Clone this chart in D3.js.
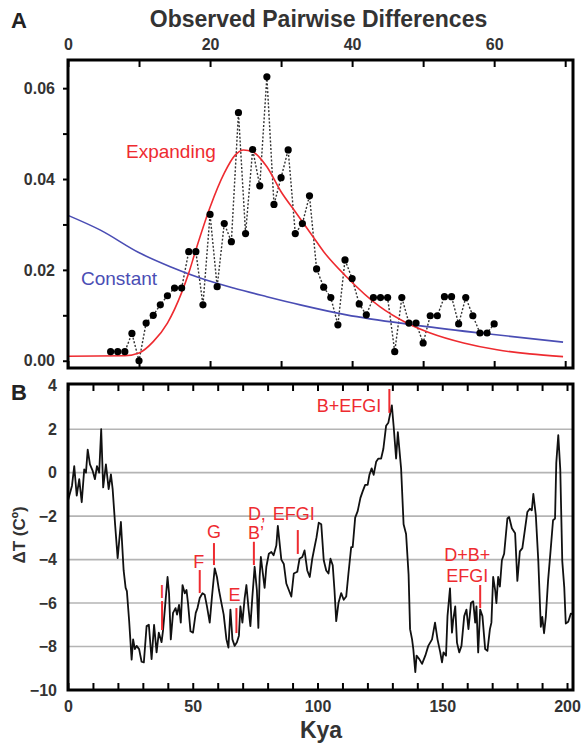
<!DOCTYPE html>
<html><head><meta charset="utf-8">
<script src="https://cdn.jsdelivr.net/npm/d3@7"></script>
<style>body{margin:0;background:#fff}svg{display:block}text{font-family:"Liberation Sans",Arial,Helvetica,sans-serif}</style>
</head><body><svg id="c" width="581" height="743"></svg>
<script>
// ---------- Panel A data ----------
const pairX = [6,7,8,9,10,11,12,13,14,15,16,17,18,19,20,21,22,23,24,25,26,27,28,29,30,31,32,33,34,35,36,37,38,39,40,41,42,43,44,45,46,47,48,49,50,51,52,53,54,55,56,57,58,59,60];
const pairY = [0.002,0.002,0.002,0.006,0.000,0.0083,0.010,0.0123,0.0143,0.016,0.016,0.024,0.024,0.0123,0.0322,0.0163,0.0302,0.0262,0.0546,0.028,0.0465,0.0385,0.0625,0.0344,0.0403,0.0464,0.028,0.0302,0.0363,0.0202,0.0162,0.0139,0.0079,0.0222,0.0181,0.0125,0.0101,0.0139,0.0139,0.0139,0.002,0.0139,0.0083,0.0083,0.0039,0.0099,0.0099,0.0141,0.0141,0.0081,0.0139,0.0099,0.0061,0.0061,0.0081];
const expandX = [0,8,10,12,14,16,17,18,20,22,23.5,24.7,26,28,30,32,34.5,36,39.2,43.9,47.7,51,55.7,60.4,65,69.7];
const expandY = [0.001,0.0011,0.0017,0.0042,0.0083,0.015,0.0193,0.0244,0.0338,0.0413,0.0452,0.0464,0.046,0.0427,0.0372,0.0328,0.0273,0.0240,0.0185,0.0119,0.0083,0.0061,0.0039,0.0024,0.0015,0.0009];
const constX = [0,4.5,10.1,14.4,18.6,23.3,28,32.7,39.2,48.6,58,69.7];
const constY = [0.032,0.0288,0.0237,0.0207,0.0182,0.016,0.0141,0.0123,0.0101,0.0079,0.0061,0.0041];
const xATicks = [0,10,20,30,40,50,60,70];
const xALabels = [0,20,40,60];
const yATicks = [0,0.01,0.02,0.03,0.04,0.05,0.06];
const yALabels = [0,0.02,0.04,0.06];

// ---------- Panel B data ----------
const tempKya = [0,1.6,2.5,3.5,4.5,5.5,6.5,7.2,7.9,8.8,9.9,10.8,11.6,12.5,13.3,14.1,15.2,16.3,17.2,17.9,18.9,19.9,21.2,22.3,23.1,23.6,24.5,25.5,26.1,26.8,27.5,28.5,29.5,30.4,31.5,32.4,33.5,34.5,35.5,36.4,37.5,38.1,38.8,39.9,40.5,41.2,42.1,43.1,43.7,44.5,45.2,45.9,46.8,47.5,48.1,49.1,50.1,51.2,51.9,52.8,53.9,54.8,55.7,56.8,57.7,58.8,59.7,60.5,61.5,62.4,63.5,64.3,65.1,65.9,66.8,67.7,68.5,69.1,69.9,70.8,71.5,72.4,73.1,73.9,74.8,75.7,76.3,76.8,77.3,78.1,78.8,79.5,80.5,81.5,82.4,83.5,84.1,85.5,86.5,87.5,88.5,89.5,90.5,91.9,92.8,93.9,94.8,95.9,96.9,97.9,98.8,99.6,100.5,101.5,102.5,103.5,104.4,105.2,106.1,106.8,107.5,108.4,109.5,110.5,111.5,112.4,113.5,114.1,115.1,116.1,117.2,118.1,119.1,120.1,120.8,121.7,122.5,123.5,124.4,125.5,126.4,127.5,128.4,129.8,130.5,131.5,132.2,133.5,134.5,135.5,136.5,137.1,137.9,138.4,139.2,139.7,140.8,141.9,143.2,144.4,145.9,147.1,148.1,149.2,149.9,150.5,151.5,152.1,153.1,153.9,154.4,155.2,155.9,156.8,157.7,158.8,159.7,160.5,161.5,162.4,163.2,163.7,164.4,165.2,166.1,167.2,168.1,169.1,169.7,170.4,171.2,171.7,172.4,173.1,173.9,174.8,176.1,176.8,177.9,179.2,180.1,181.1,182.1,183.2,184.1,185.1,185.9,186.5,187.5,188.5,189.5,190.1,190.8,191.5,192.4,193.5,194.4,195.2,195.7,196.5,197.3,198.1,198.9,199.5,200.5,201.5,202.4];
const tempDT = [-1.28,-0.6,0.3,-1.06,-0.3,-1.36,0.15,0,1.06,0.38,0.08,-0.3,0.3,0,2.0,-0.68,0.38,-0.76,-0.08,-0.76,-2.42,-3.93,-2.27,-4.5,-5.3,-5.45,-6.8,-8.6,-7.67,-8.12,-7.97,-8.12,-8.7,-8.73,-7.06,-7.0,-8.58,-7.0,-8.27,-7.36,-7.8,-7.24,-6.3,-4.8,-5.55,-7.67,-6.45,-6.23,-6.53,-6.08,-6.9,-5.17,-5.55,-5.4,-6.0,-7.3,-7.36,-6.45,-6.23,-5.77,-5.55,-5.62,-6.15,-6.9,-5.7,-4.4,-4.8,-5.4,-6.0,-6.53,-7.67,-8.05,-6.3,-7.67,-7.97,-7.8,-7.5,-6.15,-6.9,-5.77,-5.17,-6.3,-7.06,-5.7,-4.33,-5.4,-7.14,-4.8,-3.88,-4.64,-5.3,-4.33,-3.73,-3.65,-3.8,-3.35,-2.45,-4.0,-4.2,-5.1,-5.4,-5.7,-4.64,-4.56,-3.96,-3.88,-3.58,-4.5,-4.8,-3.96,-3.43,-2.98,-2.3,-2.37,-4.03,-4.5,-4.64,-3.96,-4.26,-5.4,-6.83,-6.0,-5.54,-5.85,-5.7,-4.64,-3.43,-3.43,-2.07,-1.77,-1.16,-0.86,-0.56,-0.56,-0.1,0.2,-0.1,0.5,0.65,0.65,1.1,2.16,2.3,3.1,2.16,0.65,1.86,0.2,-2.37,-2.82,-4.68,-7.2,-7.67,-8.12,-9.18,-8.42,-8.58,-8.8,-8.42,-7.97,-7.67,-6.9,-7.67,-8.27,-8.73,-8.27,-8.42,-6.6,-5.32,-7.36,-6.76,-6.15,-7.82,-8.27,-7.97,-6.6,-6.3,-7.2,-6.0,-5.92,-6.9,-6.15,-8.27,-6.3,-6.6,-8.12,-8.2,-7.2,-6.9,-4.8,-5.4,-6.0,-4.8,-5.24,-4.03,-3.73,-2.11,-2.04,-2.56,-2.79,-4.98,-3.62,-3.47,-2.56,-1.81,-1.66,-1.73,-0.98,-1.96,-4.07,-7.09,-6.64,-7.39,-6.64,-4.98,-3.47,-2.19,-2.11,0.45,1.73,0.15,-4.07,-5.28,-6.94,-6.86,-6.49,-6.5];
const xBTicks = [0,10,20,30,40,50,60,70,80,90,100,110,120,130,140,150,160,170,180,190,200];
const xBLabels = [0,50,100,150,200];
const yBLabels = [4,2,0,-2,-4,-6,-8,-10];
const yBGrid = [2,0,-2,-4,-6,-8];
const markerKya = [37.7,52.8,58.5,67.5,74.5,92.1,128.8,165.2];
const markerTop = [-5.91,-4.48,-3.24,-6.23,-3.18,-2.64,3.85,-5.17];
const markerBot = [-7.24,-5.54,-4.25,-7.38,-4.25,-3.74,2.75,-6.23];
const markerText = [["I"],["F"],["G"],["E"],["D,","B’"],["EFGI"],["B+EFGI"],["D+B+","EFGI"]];

// ---------- layout / style ----------
const W = 581, H = 743;
const RED = "#ee2b30", BLUE = "#4a4db4", TXT = "#333";
// label layout: anchor, dx, baseline offsets (px) relative to marker line top
const markerLayout = [
  {a:"middle", dx:0, dy:[-3]},
  {a:"middle", dx:-1, dy:[-2]},
  {a:"middle", dx:0, dy:[-5]},
  {a:"middle", dx:-2, dy:[-7]},
  {a:"start", dx:-6, dy:[-22,-3]},
  {a:"middle", dx:-4, dy:[-10]},
  {a:"end", dx:-8, dy:[23]},
  {a:"middle", dx:-13, dy:[-24,-3]}
];

const svg = d3.select("#c");
svg.append("rect").attr("width",W).attr("height",H).attr("fill","#fff");

// ===== Panel A =====
const xA = d3.scaleLinear().domain([0,71.1]).range([68,573]);
const yA = d3.scaleLinear().domain([-0.0016,0.0662]).range([368,60]);
const gA = svg.append("g");

function styleAxis(g){
  g.select(".domain").remove();
  g.selectAll(".tick line").attr("stroke","#000").attr("stroke-width",2);
  g.selectAll(".tick text").attr("fill",TXT).attr("font-size",16).attr("font-weight","bold")
    .attr("font-family",'"Liberation Sans",Arial,sans-serif');
}

const lineA = d3.line().x(d=>xA(d[0])).y(d=>yA(d[1]));
const curveA = d3.line().x(d=>xA(d[0])).y(d=>yA(d[1])).curve(d3.curveMonotoneX);

gA.append("path").datum(pairX.map((x,i)=>[x,pairY[i]])).attr("d",lineA)
  .attr("fill","none").attr("stroke","#333").attr("stroke-width",1.4).attr("stroke-dasharray","2,1.8");
gA.append("path").datum(constX.map((x,i)=>[x,constY[i]])).attr("d",curveA)
  .attr("fill","none").attr("stroke",BLUE).attr("stroke-width",1.6);
gA.append("path").datum(expandX.map((x,i)=>[x,expandY[i]])).attr("d",curveA)
  .attr("fill","none").attr("stroke",RED).attr("stroke-width",1.6);
gA.selectAll("circle").data(pairX.map((x,i)=>[x,pairY[i]])).join("circle")
  .attr("cx",d=>xA(d[0])).attr("cy",d=>yA(d[1])).attr("r",3.6).attr("fill","#000");

gA.append("text").attr("x",126).attr("y",158).attr("fill",RED).attr("font-size",19).text("Expanding");
gA.append("text").attr("x",81).attr("y",285).attr("fill",BLUE).attr("font-size",19).text("Constant");

// axes A
gA.append("g").attr("transform",`translate(0,${yA.range()[1]})`)
  .call(d3.axisTop(xA).tickValues(xATicks).tickSize(-7).tickPadding(10)
    .tickFormat(d=>xALabels.includes(d)?d3.format("d")(d):""))
  .call(styleAxis);
gA.append("g").attr("transform",`translate(0,${yA.range()[0]})`)
  .call(d3.axisBottom(xA).tickValues(xATicks).tickSize(-7).tickFormat(""))
  .call(styleAxis);
gA.append("g").attr("transform",`translate(${xA.range()[0]},0)`)
  .call(d3.axisLeft(yA).tickValues(yATicks).tickSize(5).tickPadding(8)
    .tickFormat(d=>yALabels.some(v=>Math.abs(v-d)<1e-9)?d3.format(".2f")(d):""))
  .call(styleAxis);
gA.append("rect").attr("x",xA.range()[0]).attr("y",yA.range()[1])
  .attr("width",xA.range()[1]-xA.range()[0]).attr("height",yA.range()[0]-yA.range()[1])
  .attr("fill","none").attr("stroke","#000").attr("stroke-width",3);

// ===== Panel B =====
const xB = d3.scaleLinear().domain([0,202.4]).range([68,573]);
const yB = d3.scaleLinear().domain([-10,4.08]).range([690,384]);
const gB = svg.append("g");

gB.selectAll("line.grid").data(yBGrid).join("line").attr("class","grid")
  .attr("x1",xB.range()[0]).attr("x2",xB.range()[1])
  .attr("y1",d=>yB(d)).attr("y2",d=>yB(d)).attr("stroke","#b4b4b4").attr("stroke-width",1.6);

gB.append("path").datum(tempKya.map((x,i)=>[x,tempDT[i]]))
  .attr("d",d3.line().x(d=>xB(d[0])).y(d=>yB(d[1])))
  .attr("fill","none").attr("stroke","#111").attr("stroke-width",1.8).attr("stroke-linejoin","round");

markerKya.forEach((k,i)=>{
  const x = xB(k), yt = yB(markerTop[i]), yb = yB(markerBot[i]);
  gB.append("line").attr("x1",x).attr("x2",x).attr("y1",yt).attr("y2",yb)
    .attr("stroke",RED).attr("stroke-width",2);
  const L = markerLayout[i];
  markerText[i].forEach((t,j)=>{
    gB.append("text").attr("x",x+L.dx).attr("y",yt+L.dy[j]).attr("text-anchor",L.a)
      .attr("fill",RED).attr("font-size",18).text(t);
  });
});

gB.append("g").attr("transform",`translate(0,${yB.range()[1]})`)
  .call(d3.axisTop(xB).tickValues(xBTicks).tickSize(-7).tickFormat(""))
  .call(styleAxis);
gB.append("g").attr("transform",`translate(0,${yB.range()[0]})`)
  .call(d3.axisBottom(xB).tickValues(xBTicks).tickSize(-7).tickPadding(11)
    .tickFormat(d=>xBLabels.includes(d)?d3.format("d")(d):""))
  .call(styleAxis);
gB.append("g").attr("transform",`translate(${xB.range()[0]},0)`)
  .call(d3.axisLeft(yB).tickValues(yBLabels).tickSize(0).tickPadding(11).tickFormat(d3.format("d")))
  .call(styleAxis);
gB.append("rect").attr("x",xB.range()[0]).attr("y",yB.range()[1])
  .attr("width",xB.range()[1]-xB.range()[0]).attr("height",yB.range()[0]-yB.range()[1])
  .attr("fill","none").attr("stroke","#000").attr("stroke-width",3);

// ===== titles =====
svg.append("text").attr("x",318.5).attr("y",27).attr("text-anchor","middle")
  .attr("font-size",23).attr("font-weight","bold").attr("fill",TXT).text("Observed Pairwise Differences");
svg.append("text").attr("x",11).attr("y",28).attr("font-size",22).attr("font-weight","bold").attr("fill","#222").text("A");
svg.append("text").attr("x",11).attr("y",400).attr("font-size",22).attr("font-weight","bold").attr("fill","#222").text("B");
svg.append("text").attr("x",321).attr("y",738).attr("text-anchor","middle")
  .attr("font-size",23).attr("font-weight","bold").attr("fill",TXT).text("Kya");
svg.append("text").attr("transform","translate(25,535) rotate(-90)").attr("text-anchor","middle")
  .attr("font-size",17).attr("font-weight","bold").attr("fill",TXT).text("ΔT (Cº)");
</script></body></html>
